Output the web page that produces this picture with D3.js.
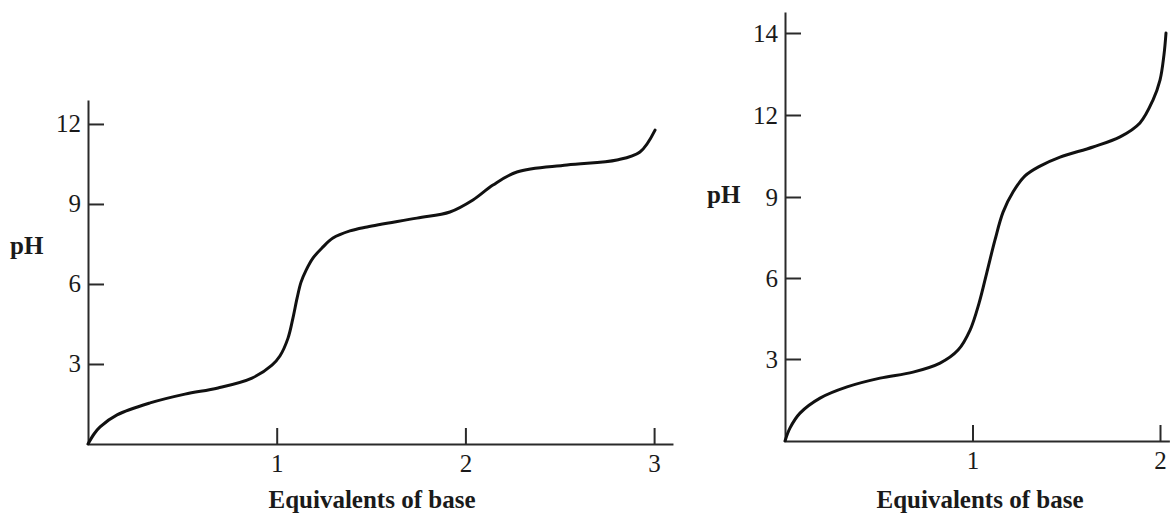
<!DOCTYPE html>
<html>
<head>
<meta charset="utf-8">
<script src="https://d3js.org/d3.v7.min.js"></script>
<style>
  body { margin: 0; background: #fff; }
  svg { display: block; }
</style>
</head>
<body>
<div id="chart"></div>
<script>
// Data
let leftEquiv = [0, 0.032, 0.064, 0.154, 0.329, 0.514, 0.689, 0.869, 0.975, 1.017, 1.06, 1.086, 1.108, 1.129, 1.156, 1.192, 1.24, 1.298, 1.388, 1.479, 1.743, 1.918, 2.04, 2.146, 2.273, 2.538, 2.803, 2.925, 3.005]
let leftPH = [0, 0.375, 0.64, 1.09, 1.54, 1.87, 2.1, 2.47, 2.96, 3.3, 3.97, 4.72, 5.47, 6.07, 6.52, 6.97, 7.35, 7.72, 7.99, 8.14, 8.47, 8.7, 9.15, 9.71, 10.2, 10.46, 10.65, 10.95, 11.77]

let rightEquiv = [0, 0.027, 0.08, 0.187, 0.331, 0.507, 0.683, 0.827, 0.923, 0.987, 1.035, 1.077, 1.12, 1.163, 1.216, 1.28, 1.36, 1.467, 1.643, 1.787, 1.893, 1.963, 2.0, 2.021, 2.032]
let rightPH = [0, 0.48, 1.02, 1.57, 1.98, 2.3, 2.52, 2.85, 3.33, 4.07, 5.07, 6.22, 7.41, 8.44, 9.18, 9.77, 10.13, 10.46, 10.83, 11.2, 11.71, 12.37, 12.85, 13.46, 14.0]

// Tick labels
let leftXTicks = [1, 2, 3]
let leftYTicks = [3, 6, 9, 12]
let rightXTicks = [1, 2]
let rightYTicks = [3, 6, 9, 12, 14]

let xTitle = 'Equivalents of base'
let yTitle = 'pH'

let svgWidth = 1173, svgHeight = 523
let font = '"Liberation Serif", "Times New Roman", serif'

let svg = d3.select('#chart')
    .append('svg')
    .attr('width', svgWidth)
    .attr('height', svgHeight)

// fn to draw one panel
drawPanel = (opts) => {
    let { x, y, xTicks, yTicks, xs, ys, titleX, pHX, pHY } = opts

    // Y axis, ticks pointing inward
    let gy = svg.append('g')
        .attr('transform', 'translate(' + x.range()[0] + ',0)')
        .call(d3.axisLeft(y).tickValues(yTicks).tickFormat(d3.format('d'))
            .tickSizeInner(-16).tickSizeOuter(0).tickPadding(7))

    // X axis, ticks pointing up
    let gx = svg.append('g')
        .attr('transform', 'translate(0,' + y(0) + ')')
        .call(d3.axisBottom(x).tickValues(xTicks).tickFormat(d3.format('d'))
            .tickSizeInner(-16).tickSizeOuter(0).tickPadding(10))

    ;[gx, gy].forEach(g => {
        g.selectAll('path, line')
            .attr('stroke', '#2a2a2a')
            .attr('stroke-width', 2)
        g.selectAll('text')
            .attr('fill', '#1a1a1a')
            .style('font-family', font)
            .style('font-size', '25px')
    })

    // Axis titles
    svg.append('text')
        .attr('x', titleX)
        .attr('y', 508)
        .attr('text-anchor', 'middle')
        .attr('fill', '#1a1a1a')
        .style('font-family', font)
        .style('font-size', '25px')
        .style('font-weight', 'bold')
        .text(xTitle)

    svg.append('text')
        .attr('x', pHX)
        .attr('y', pHY)
        .attr('fill', '#1a1a1a')
        .style('font-family', font)
        .style('font-size', '25px')
        .style('font-weight', 'bold')
        .text(yTitle)

    // Curve
    let line = d3.line()
        .x((d, i) => x(xs[i]))
        .y((d, i) => y(ys[i]))
        .curve(d3.curveCatmullRom.alpha(0.5))

    svg.append('path')
        .datum(xs)
        .attr('fill', 'none')
        .attr('stroke', '#111')
        .attr('stroke-width', 3)
        .attr('stroke-linejoin', 'round')
        .attr('stroke-linecap', 'round')
        .attr('d', line)
}

// Left panel
let xLeft = d3.scaleLinear().domain([0, 3.1]).range([88, 88 + 188.7 * 3.1])
let yLeft = d3.scaleLinear().domain([0, 12.9]).range([444, 444 - 26.67 * 12.9])
drawPanel({ x: xLeft, y: yLeft, xTicks: leftXTicks, yTicks: leftYTicks, xs: leftEquiv, ys: leftPH, titleX: 372, pHX: 10, pHY: 254 })

// Right panel - the printed ticks are evenly spaced, so the pH scale is piecewise
let xRight = d3.scaleLinear().domain([0, 2.05]).range([785, 785 + 187.5 * 2.05])
let yRight = d3.scaleLinear().domain([0, 3, 6, 9, 12, 14, 14.5]).range([441, 359, 278, 197, 115, 33, 12])
drawPanel({ x: xRight, y: yRight, xTicks: rightXTicks, yTicks: rightYTicks, xs: rightEquiv, ys: rightPH, titleX: 980, pHX: 707, pHY: 203 })
</script>
</body>
</html>
